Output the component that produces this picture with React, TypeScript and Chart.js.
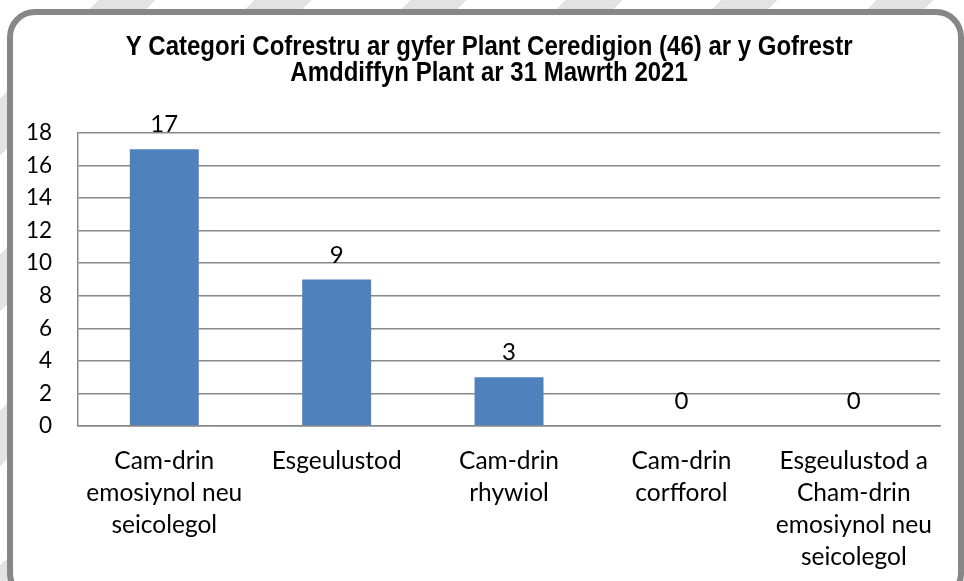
import React, { useEffect, useRef } from "react";
import { Chart, registerables } from "chart.js";

Chart.register(...registerables);

const titleLines = [
  "Y Categori Cofrestru ar gyfer Plant Ceredigion (46) ar y Gofrestr",
  "Amddiffyn Plant ar 31 Mawrth 2021",
];

const categories: string[][] = [
  ["Cam-drin", "emosiynol neu", "seicolegol"],
  ["Esgeulustod"],
  ["Cam-drin", "rhywiol"],
  ["Cam-drin", "corfforol"],
  ["Esgeulustod a", "Cham-drin", "emosiynol neu", "seicolegol"],
];

const values = [17, 9, 3, 0, 0];

const yMin = 0;
const yMax = 18;
const yStep = 2;

const BODY_FONT = "Lato, 'Open Sans', sans-serif";
const TITLE_FONT = "bold 24px 'Liberation Sans', Arial, sans-serif";

const titlePlugin = {
  id: "stretchedTitle",
  afterDraw(chart: any) {
    const ctx = chart.ctx;
    const sy = 1.18;
    const cx = (chart.chartArea.left + chart.chartArea.right) / 2 - 20;
    const firstCenter = 47;
    const lineGap = 26;
    ctx.save();
    ctx.fillStyle = "#000";
    ctx.font = TITLE_FONT;
    ctx.textAlign = "center";
    ctx.textBaseline = "middle";
    titleLines.forEach((line, i) => {
      const y = firstCenter + i * lineGap;
      ctx.save();
      ctx.translate(cx, y);
      ctx.scale(1, sy);
      ctx.fillText(line, 0, 0);
      ctx.restore();
    });
    ctx.restore();
  },
};

const dataLabelPlugin = {
  id: "dataLabels",
  afterDatasetsDraw(chart: any) {
    const ctx = chart.ctx;
    const meta = chart.getDatasetMeta(0);
    ctx.save();
    ctx.fillStyle = "#000";
    ctx.font = `24px ${BODY_FONT}`;
    ctx.textAlign = "center";
    ctx.textBaseline = "alphabetic";
    meta.data.forEach((el: any, i: number) => {
      ctx.fillText(String(values[i]), el.x, el.y - 17);
    });
    ctx.restore();
  },
};

export default function App() {
  const ref = useRef<HTMLCanvasElement | null>(null);

  useEffect(() => {
    if (!ref.current) return;
    const chart = new Chart(ref.current, {
      type: "bar",
      data: {
        labels: categories,
        datasets: [
          {
            data: values,
            backgroundColor: "#4F81BD",
            borderColor: "#4F81BD",
            borderWidth: 0,
            categoryPercentage: 1,
            barPercentage: 0.4,
          },
        ],
      },
      plugins: [titlePlugin, dataLabelPlugin],
      options: {
        animation: false,
        responsive: false,
        maintainAspectRatio: false,
        layout: { padding: { left: 0, right: 24, top: 133, bottom: 8 } },
        plugins: {
          legend: { display: false },
          tooltip: { enabled: false },
          title: { display: false },
        },
        scales: {
          x: {
            grid: { display: false, drawTicks: false },
            border: { display: true, color: "#888888", width: 1.5 },
            ticks: {
              color: "#000",
              font: { family: BODY_FONT, size: 24.5, lineHeight: "32px" },
              padding: 19,
              maxRotation: 0,
              autoSkip: false,
            },
            afterFit(scale: any) {
              scale.height = 147;
            },
          },
          y: {
            min: yMin,
            max: yMax,
            grid: { color: "#888888", lineWidth: 1.5, drawTicks: false },
            border: { display: true, color: "#888888", width: 1.5 },
            ticks: {
              stepSize: yStep,
              color: "#000",
              font: { family: BODY_FONT, size: 22.5 },
              padding: 26,
            },
          },
        },
      },
    });
    return () => chart.destroy();
  }, []);

  return (
    <div
      style={{
        position: "absolute",
        left: 0,
        top: 0,
        width: 964,
        height: 581,
        overflow: "hidden",
        background:
          "repeating-linear-gradient(135deg, #ffffff 0px, #ffffff 70px, #e3e3e3 70px, #e3e3e3 110px)",
      }}
    >
      <div
        style={{
          position: "absolute",
          left: 7,
          top: 9,
          width: 945,
          height: 580,
          border: "6px solid #878787",
          borderRadius: 28,
          background: "#fff",
        }}
      />
      <canvas
        ref={ref}
        width={964}
        height={581}
        style={{ position: "absolute", left: 0, top: 0, width: 964, height: 581 }}
      />
    </div>
  );
}
